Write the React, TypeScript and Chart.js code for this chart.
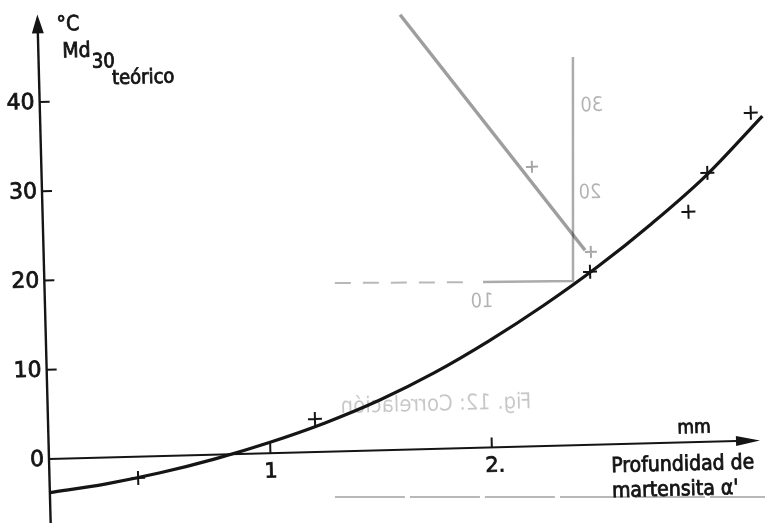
import { useEffect, useRef } from "react";
import { Chart, registerables } from "chart.js";

Chart.register(...registerables);

// ---- data ----
const curveX = [0, 0.25, 0.5, 0.75, 1.0, 1.25, 1.5, 1.75, 2.0, 2.25, 2.5, 2.75, 3.0, 3.26];
const curveY = [-3.77, -2.97, -1.87, -0.47, 1.23, 3.23, 5.63, 8.53, 11.93, 15.73, 19.93, 24.63, 29.83, 36.3];

const measuredX = [0.4, 1.205, 2.464, 2.915, 3.005, 3.208];
const measuredY = [-2.39, 3.7, 19.37, 25.8, 30.1, 36.7];

const yTickValues = [0, 10, 20, 30, 40];
const xTickValues = [1, 2];
const xTickLabels = ["1", "2."];

const yTitleUnit = "°C";
const yTitleMain = "Md";
const yTitleSub = "30";
const yTitleNote = "teórico";
const xUnit = "mm";
const xTitleLines = ["Profundidad de", "martensita α'"];

// faint show-through of the reverse side of the page
const ghostDiagX = [1.637, 2.444];
const ghostDiagY = [48.7, 21.8];
const ghostFrameX = [2.412, 2.386, 1.98];
const ghostFrameY = [43.47, 18.4, 18.53];
const ghostDashX = [1.311, 1.93];
const ghostDashY = [18.86, 18.55];
const ghostBottomX = [1.286, 3.26];
const ghostBottomY = [-5.09, -6.37];
const ghostCrossX = [2.214, 2.47];
const ghostCrossY = [31.3, 21.6];
const ghostLabels = ["30", "20", "10"];
const ghostLabelX = [2.492, 2.473, 1.973];
const ghostLabelY = [37.93, 28.19, 16.3];
const ghostCaption = "Fig. 12: Correlación";
const ghostCaptionX = [1.753];
const ghostCaptionY = [4.92];

// axis extents
const X_MIN = -0.2212;
const X_MAX = 3.2325;
const Y_MIN = -7.167;
const Y_MAX = 51.4;
const X_ARROW_TIP = 3.211;
const Y_ARROW_TIP = 49.8;

const TILT = (1.5 * Math.PI) / 180;
const INK = "#151515";
const COND = "'DejaVu Sans Condensed', 'DejaVu Sans', sans-serif";
const NORM = "'DejaVu Sans', sans-serif";

const pts = (xs: number[], ys: number[]) => xs.map((x, i) => ({ x, y: ys[i] }));

function inkText(ctx: CanvasRenderingContext2D, t: string, x: number, y: number) {
  ctx.fillText(t, x, y);
  ctx.strokeText(t, x, y);
}

const figurePlugin = {
  id: "figure",
  beforeDraw(chart: any) {
    const { ctx } = chart;
    const xs = chart.scales.x;
    const ys = chart.scales.y;
    const ox = xs.getPixelForValue(0);
    const oy = ys.getPixelForValue(0);
    ctx.save();
    ctx.fillStyle = "#ffffff";
    ctx.fillRect(0, 0, chart.width, chart.height);
    ctx.translate(ox, oy);
    ctx.rotate(-TILT);
    ctx.translate(-ox, -oy);

    // mirrored show-through text
    ctx.save();
    ctx.fillStyle = "rgba(0,0,0,0.30)";
    ctx.textAlign = "center";
    ctx.textBaseline = "middle";
    ctx.font = `20px ${COND}`;
    ghostLabels.forEach((t, i) => {
      ctx.save();
      ctx.translate(xs.getPixelForValue(ghostLabelX[i]), ys.getPixelForValue(ghostLabelY[i]));
      ctx.scale(-1, 1);
      ctx.fillText(t, 0, 0);
      ctx.restore();
    });
    ctx.font = `22px ${COND}`;
    ctx.fillStyle = "rgba(0,0,0,0.22)";
    ctx.save();
    ctx.translate(xs.getPixelForValue(ghostCaptionX[0]), ys.getPixelForValue(ghostCaptionY[0]));
    ctx.scale(-1, 1);
    ctx.fillText(ghostCaption, 0, 0);
    ctx.restore();
    ctx.restore();
  },
  afterDatasetsDraw(chart: any) {
    const { ctx } = chart;
    const xs = chart.scales.x;
    const ys = chart.scales.y;
    const ox = xs.getPixelForValue(0);
    const oy = ys.getPixelForValue(0);
    ctx.save();
    ctx.strokeStyle = INK;
    ctx.fillStyle = INK;
    ctx.lineCap = "butt";

    // y axis
    const yTip = ys.getPixelForValue(Y_ARROW_TIP);
    ctx.lineWidth = 2.4;
    ctx.beginPath();
    ctx.moveTo(ox, chart.height + 40);
    ctx.lineTo(ox, yTip + 12);
    ctx.stroke();
    ctx.beginPath();
    ctx.moveTo(ox, yTip);
    ctx.lineTo(ox - 6, yTip + 19);
    ctx.lineTo(ox + 6, yTip + 19);
    ctx.closePath();
    ctx.fill();

    // x axis
    const xTip = xs.getPixelForValue(X_ARROW_TIP);
    ctx.lineWidth = 2;
    ctx.beginPath();
    ctx.moveTo(ox, oy);
    ctx.lineTo(xTip - 14, oy);
    ctx.stroke();
    ctx.beginPath();
    ctx.moveTo(xTip, oy);
    ctx.lineTo(xTip - 24, oy - 5);
    ctx.lineTo(xTip - 24, oy + 5);
    ctx.closePath();
    ctx.fill();

    // y ticks and labels
    ctx.lineWidth = 2;
    yTickValues.forEach((v) => {
      const py = ys.getPixelForValue(v);
      if (v !== 0) {
        ctx.beginPath();
        ctx.moveTo(ox, py);
        ctx.lineTo(ox + 10, py);
        ctx.stroke();
      }
    });
    xTickValues.forEach((v) => {
      const px = xs.getPixelForValue(v);
      ctx.beginPath();
      ctx.moveTo(px, oy);
      ctx.lineTo(px, oy - 10);
      ctx.stroke();
    });

    ctx.lineWidth = 0.8;
    ctx.font = `22px ${NORM}`;
    ctx.textAlign = "right";
    ctx.textBaseline = "middle";
    yTickValues.forEach((v) => {
      inkText(ctx, String(v), ox - 5, ys.getPixelForValue(v) + 1);
    });

    ctx.font = `21px ${NORM}`;
    ctx.textAlign = "center";
    xTickValues.forEach((v, i) => {
      inkText(ctx, xTickLabels[i], xs.getPixelForValue(v) + (i === 1 ? 3 : 0), oy + 19);
    });

    // y title
    ctx.textAlign = "left";
    ctx.textBaseline = "alphabetic";
    ctx.font = `21px ${COND}`;
    inkText(ctx, yTitleUnit, ox + 19, oy - 428);
    ctx.font = `21px ${COND}`;
    inkText(ctx, yTitleMain, ox + 24, oy - 401);
    const mdW = ctx.measureText(yTitleMain).width;
    ctx.font = `20px ${COND}`;
    inkText(ctx, yTitleSub, ox + 24 + mdW + 1, oy - 390);
    inkText(ctx, yTitleNote, ox + 73, oy - 373);

    // x title
    ctx.font = `19px ${COND}`;
    inkText(ctx, xUnit, ox + 629, oy - 9);
    ctx.font = `21px ${COND}`;
    inkText(ctx, xTitleLines[0], ox + 562, oy + 28);
    inkText(ctx, xTitleLines[1], ox + 562, oy + 53);

    ctx.restore();
  },
  afterDraw(chart: any) {
    chart.ctx.restore();
  },
};

export default function App() {
  const canvasRef = useRef<HTMLCanvasElement | null>(null);

  useEffect(() => {
    document.body.style.margin = "0";
    const canvas = canvasRef.current;
    if (!canvas) return;
    const ghost = "rgba(0,0,0,0.33)";
    const chart = new Chart(canvas, {
      type: "scatter",
      data: {
        datasets: [
          {
            data: pts(ghostDiagX, ghostDiagY),
            showLine: true,
            borderColor: "rgba(0,0,0,0.38)",
            borderWidth: 3.5,
            pointRadius: 0,
            clip: false as any,
          },
          {
            data: pts(ghostFrameX, ghostFrameY),
            showLine: true,
            borderColor: ghost,
            borderWidth: 2.5,
            pointRadius: 0,
            clip: false as any,
          },
          {
            data: pts(ghostDashX, ghostDashY),
            showLine: true,
            borderColor: "rgba(0,0,0,0.28)",
            borderWidth: 2,
            borderDash: [16, 12],
            pointRadius: 0,
            clip: false as any,
          },
          {
            data: pts(ghostBottomX, ghostBottomY),
            showLine: true,
            borderColor: "rgba(0,0,0,0.28)",
            borderWidth: 2,
            borderDash: [70, 5],
            pointRadius: 0,
            clip: false as any,
          },
          {
            data: pts(ghostCrossX, ghostCrossY),
            showLine: false,
            pointStyle: "cross",
            pointRadius: 6,
            borderColor: "rgba(0,0,0,0.35)",
            pointBorderWidth: 2,
            clip: false as any,
          },
          {
            data: pts(curveX, curveY),
            showLine: true,
            borderColor: INK,
            borderWidth: 3.2,
            pointRadius: 0,
            cubicInterpolationMode: "monotone",
            clip: false as any,
          },
          {
            data: pts(measuredX, measuredY),
            showLine: false,
            pointStyle: "cross",
            pointRadius: 7,
            borderColor: INK,
            backgroundColor: INK,
            pointBorderWidth: 2,
            clip: false as any,
          },
        ],
      },
      options: {
        animation: false,
        responsive: true,
        maintainAspectRatio: false,
        events: [],
        layout: { padding: 0, autoPadding: false },
        plugins: { legend: { display: false }, tooltip: { enabled: false } },
        scales: {
          x: { type: "linear", min: X_MIN, max: X_MAX, display: false },
          y: { type: "linear", min: Y_MIN, max: Y_MAX, display: false },
        },
      },
      plugins: [figurePlugin],
    });
    return () => chart.destroy();
  }, []);

  return (
    <div style={{ position: "relative", width: 765, height: 523, background: "#fff" }}>
      <canvas ref={canvasRef} />
    </div>
  );
}
